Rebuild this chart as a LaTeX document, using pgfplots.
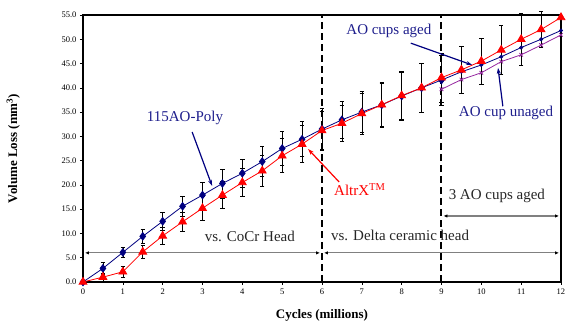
\documentclass[border=0pt]{standalone}
\usepackage{pgfplots}
\pgfplotsset{compat=1.18}
\usepackage{pgfplotstable}
\usepackage{fontspec}
\setmainfont{Liberation Serif}
\usetikzlibrary{arrows.meta}
\definecolor{navyb}{RGB}{0,0,128}
\definecolor{txtb}{RGB}{30,30,140}
\definecolor{purp}{RGB}{150,40,160}
\definecolor{grayarr}{RGB}{128,128,128}

\pgfplotstableread{
x y e
0 0 0
0.5 2.8 1.2
1 6.1 1.0
1.5 9.4 1.4
2 12.5 1.8
2.5 15.6 2.1
3 17.9 2.6
3.5 20.3 3.0
4 22.4 2.9
4.5 24.8 3.1
5 27.5 3.5
5.5 29.4 3.6
6 31.5 4.2
6.5 33.4 3.9
7 35.0 4.2
7.5 36.5 4.6
8 38.3 5.0
8.5 40.0 5.0
9 41.6 5.2
}\poly

\pgfplotstableread{
x y e
0 0 0
0.5 1.0 0.8
1 2.1 1.1
1.5 6.2 1.3
2 9.5 1.8
2.5 12.4 1.9
3 15.2 2.4
3.5 17.9 2.8
4 20.5 2.9
4.5 22.9 3.1
5 26.0 3.5
5.5 28.4 3.8
6 31.2 4.0
6.5 32.7 3.8
7 34.7 4.2
7.5 36.5 4.5
8 38.4 4.8
8.5 40.0 5.0
9 42.1 5.0
9.5 43.7 4.8
10 45.5 4.8
10.5 47.8 5.1
11 50.0 5.3
11.5 52.0 3.7
12 54.5 0
}\altrx

\pgfplotstableread{
x y
9 41.6
9.5 43.3
10 44.7
10.5 46.4
11 48.3
11.5 50.0
12 51.8
}\aged

\pgfplotstableread{
x y
9 39.7
9.5 41.7
10 43.1
10.5 45.4
11 46.8
11.5 48.8
12 50.9
}\unaged

\begin{document}
\begin{tikzpicture}
\begin{axis}[
  at={(0,0)}, anchor=south west,
  scale only axis, width=478pt, height=267pt,
  xmin=0, xmax=12, ymin=0, ymax=55,
  xtick={0,1,...,12}, ytick={0,5,...,55},
  xtick pos=bottom, ytick pos=left,
  tick align=outside, major tick length=3pt,
  tick style={black, line width=0.6pt},
  yticklabel style={/pgf/number format/.cd, fixed, fixed zerofill, precision=1},
  /pgf/number format/assume math mode=true,
  ticklabel style={font=\fontsize{8.5}{9}\selectfont},
  axis line style={black, line width=1.3pt},
  clip=false,
  xlabel={\textbf{Cycles (millions)}},
  ylabel={\textbf{Volume Loss (mm\textsuperscript{3})}},
  label style={font=\fontsize{13}{15}\selectfont},
  xlabel style={at={(axis description cs:0.5,-0.124)}, anchor=center},
  ylabel style={at={(axis description cs:-0.146,0.5)}, anchor=center},
  error bars/error bar style={black, line width=0.6pt},
  error bars/error mark options={rotate=90, mark size=2.2pt, black, line width=0.6pt},
]
% dashed separators
\addplot[black, line width=2pt, dash pattern=on 7pt off 4pt] coordinates {(6,0) (6,55)};
\addplot[black, line width=2pt, dash pattern=on 7pt off 4pt] coordinates {(9,0) (9,55)};
% gray range arrows
\addplot[grayarr, line width=1.2pt, {Latex[length=4pt,width=3.5pt,black]}-{Latex[length=4pt,width=3.5pt,black]}] coordinates {(0.05,6) (5.95,6)};
\addplot[grayarr, line width=1.2pt, {Latex[length=4pt,width=3.5pt,black]}-{Latex[length=4pt,width=3.5pt,black]}] coordinates {(6.05,6) (11.95,6)};
\addplot[grayarr, line width=1.2pt, {Latex[length=4pt,width=3.5pt,black]}-{Latex[length=4pt,width=3.5pt,black]}] coordinates {(9.05,13.6) (11.95,13.6)};
% series
\addplot[navyb, line width=0.8pt, mark=diamond*, mark size=3.8pt, mark options={fill=navyb, solid},
  error bars/.cd, y dir=both, y explicit] table[x=x, y=y, y error=e] {\poly};
\addplot[navyb, line width=0.8pt, mark=*, mark size=1.6pt, mark options={fill=navyb}] table[x=x, y=y] {\aged};
\addplot[purp, line width=0.8pt, mark=x, mark size=2.5pt, mark options={purp, line width=0.8pt}] table[x=x, y=y] {\unaged};
\addplot[red, line width=0.8pt, mark=triangle*, mark size=4.5pt, mark options={fill=red, solid},
  error bars/.cd, y dir=both, y explicit] table[x=x, y=y, y error=e] {\altrx};
% annotations
\node[txtb, font=\fontsize{15}{16}\selectfont] at (axis cs:2.56,33.8) {115AO-Poly};
\draw[navyb, line width=1.2pt, -{Stealth[length=6pt,width=4pt]}] (axis cs:2.74,30.9) -- (axis cs:3.24,19.8);
\node[red, font=\fontsize{15}{16}\selectfont] at (axis cs:6.95,19.0) {AltrX\textsuperscript{TM}};
\draw[red, line width=1.2pt, -{Stealth[length=6pt,width=4pt]}] (axis cs:6.43,20.6) -- (axis cs:5.65,27.4);
\node[txtb, font=\fontsize{15}{16}\selectfont] at (axis cs:7.68,51.7) {AO cups aged};
\draw[navyb, line width=1.2pt, -{Stealth[length=6pt,width=4pt]}] (axis cs:8.23,49.2) -- (axis cs:9.77,44.7);
\node[txtb, font=\fontsize{15}{16}\selectfont] at (axis cs:10.62,34.8) {AO cup unaged};
\draw[navyb, line width=1.2pt, -{Stealth[length=6pt,width=4pt]}] (axis cs:10.54,36.2) -- (axis cs:10.42,44.1);
\node[black!85, font=\fontsize{15}{16}\selectfont] at (axis cs:4.19,9.3) {vs. CoCr Head};
\node[black!85, font=\fontsize{15}{16}\selectfont] at (axis cs:7.96,9.7) {vs. Delta ceramic head};
\node[black!85, font=\fontsize{15}{16}\selectfont] at (axis cs:10.39,17.7) {3 AO cups aged};
\end{axis}
\pgfresetboundingbox
\path (-83pt,-41pt) rectangle (483pt,282pt);
\end{tikzpicture}
\end{document}
